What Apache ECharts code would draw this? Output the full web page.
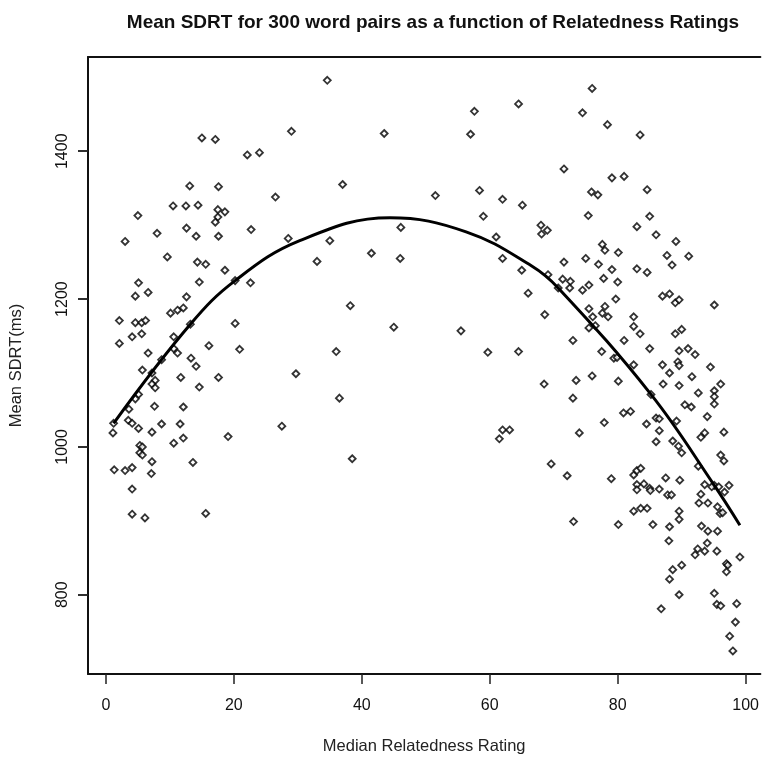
<!DOCTYPE html>
<html><head><meta charset="utf-8">
<script src="https://cdn.jsdelivr.net/npm/echarts@6/dist/echarts.min.js"></script>
<style>html,body{margin:0;padding:0;background:#fff}#c{width:762px;height:760px}</style>
</head><body><div id="c"></div>
<script>
// Median relatedness rating (x) and mean SDRT in ms (y)
const relatedness = [
15.0,17.1,29.0,22.1,24.0,13.1,17.6,26.5,5.0,10.5,12.5,14.4,17.5,18.6,17.5,17.1,8.0,12.6,14.1,17.6,22.7,28.5,3.0,9.6,14.3,15.6,18.6,
34.6,57.6,64.5,43.5,57.0,37.0,51.5,58.4,62.0,65.1,59.0,46.1,61.0,35.0,41.5,46.0,33.0,62.0,65.0,
66.0,38.2,45.0,55.5,36.0,59.7,64.5,36.5,62.0,63.1,61.5,38.5,
76.0,74.5,78.4,83.5,71.6,79.1,81.0,75.9,76.9,84.6,75.4,85.0,83.0,68.0,69.0,68.1,86.0,89.1,77.6,78.0,80.1,87.7,91.1,71.6,75.0,77.0,88.5,79.1,83.0,84.6,
5.1,14.6,22.6,20.2,4.6,6.6,12.6,10.1,11.2,12.1,2.1,4.6,5.6,6.2,13.2,20.2,4.1,5.6,2.1,10.6,16.1,20.9,6.6,10.6,11.2,8.7,13.3,14.1,5.7,7.2,11.7,17.6,29.7,7.7,7.2,7.7,14.6,5.1,4.6,7.6,12.1,3.6,3.5,4.1,5.1,1.2,1.1,8.7,11.6,7.2,12.1,10.6,19.1,27.5,5.3,5.7,5.3,5.7,7.2,13.6,1.3,3.0,4.1,7.1,
4.1,4.1,6.1,15.6,
69.1,71.4,72.6,75.5,74.5,77.8,80.0,72.5,70.7,79.7,87.0,88.1,89.0,89.6,95.1,68.6,75.5,78.0,77.6,78.5,76.1,75.5,76.5,82.5,82.5,83.5,89.0,90.0,73.0,81.0,85.0,89.6,91.0,92.1,77.5,79.4,79.9,89.4,89.6,87.0,82.5,94.5,88.1,91.6,68.5,73.5,76.0,80.1,87.1,89.6,96.1,92.6,95.1,95.1,85.2,73.0,90.5,91.5,95.1,80.9,82.0,94.0,86.0,86.5,77.9,84.5,89.2,74.0,86.5,93.6,93.0,96.6,86.0,88.6,89.5,90.0,96.1,96.6,69.6,92.6,72.1,79.0,82.5,83.0,83.6,87.5,89.7,83.0,84.1,93.6,95.1,97.4,
85.0,85.1,86.5,87.8,88.4,83.0,94.7,95.8,96.7,93.0,92.7,94.1,95.6,96.0,96.4,82.5,83.6,84.6,89.6,89.6,73.1,80.1,85.5,88.1,93.1,94.1,95.6,88.0,94.0,92.5,92.1,93.6,95.5,99.1,97.0,97.2,97.0,90.0,88.6,88.1,89.6,95.1,95.5,96.1,98.6,86.8,98.4,97.5,98.0
];
const sdrt = [
1418,1416,1427,1395,1398,1353,1352,1338,1313,1326,1326,1327,1321,1318,1311,1304,1289,1296,1285,1285,1294,1282,1278,1257,1250,1247,1239,
1496,1454,1464,1424,1423,1355,1340,1347,1335,1327,1312,1297,1284,1279,1262,1255,1251,1255,1239,
1208,1191,1162,1157,1129,1128,1129,1066,1023,1023,1011,984,
1485,1452,1436,1422,1376,1364,1366,1345,1341,1348,1313,1312,1298,1300,1293,1288,1287,1278,1274,1266,1263,1259,1258,1250,1255,1247,1246,1240,1241,1236,
1222,1223,1222,1225,1204,1209,1203,1181,1185,1188,1171,1168,1168,1171,1166,1167,1149,1153,1140,1149,1137,1132,1127,1133,1127,1118,1120,1109,1104,1100,1094,1094,1099,1090,1085,1080,1081,1071,1065,1055,1054,1051,1036,1032,1025,1032,1019,1031,1031,1020,1012,1005,1014,1028,1002,1000,992,989,980,979,969,968,972,964,
943,909,904,910,
1233,1227,1224,1219,1212,1228,1223,1215,1215,1200,1204,1207,1195,1199,1192,1179,1187,1190,1181,1176,1176,1161,1164,1176,1163,1153,1153,1159,1144,1144,1133,1130,1133,1125,1129,1120,1121,1115,1110,1111,1111,1108,1100,1095,1085,1090,1096,1089,1085,1083,1085,1073,1076,1068,1071,1066,1057,1054,1058,1046,1048,1041,1039,1038,1033,1031,1035,1019,1022,1019,1013,1020,1007,1008,1001,992,989,981,977,974,961,957,962,968,971,958,955,949,950,949,948,948,
944,941,943,935,935,942,946,946,939,936,924,924,919,910,911,913,917,917,913,902,899,895,895,892,893,886,886,873,870,862,854,859,859,851,842,840,831,840,834,821,800,802,787,785,788,781,763,744,724
];
// Fitted curve, points
const fitX = [1.2, 13.2, 20.2, 30.3, 44.4, 56.3, 66.5, 70.7, 85.2, 95.1, 99.1];
const fitY = [1032, 1166, 1225, 1279, 1310, 1291, 1245, 1215, 1071, 948, 894];
const xTicks = [0, 20, 40, 60, 80, 100];
const yTicks = [800, 1000, 1200, 1400];

const chart = echarts.init(document.getElementById('c'), null, {renderer: 'canvas'});
const font = '"Liberation Sans", Arial, Helvetica, sans-serif';
const frame = {show: true, onZero: false, lineStyle: {color: '#111', width: 2}};
const X_MIN = -2.8, X_MAX = 102.3, Y_MIN = 692.8, Y_MAX = 1527.5;
const GRID_LEFT = 88, TICK_LEN = 10;
chart.setOption({
  backgroundColor: '#fff',
  animation: false,
  title: {
    text: 'Mean SDRT for 300 word pairs as a function of Relatedness Ratings',
    left: 428, top: 8, textAlign: 'center',
    textStyle: {fontFamily: font, fontSize: 19, fontWeight: 'bold', color: '#111'}
  },
  grid: {left: GRID_LEFT, top: 57, right: 0, bottom: 86, show: false, containLabel: false},
  xAxis: [{
    type: 'value', min: X_MIN, max: X_MAX, position: 'bottom',
    axisLine: frame,
    axisTick: {show: true, length: TICK_LEN, customValues: xTicks, lineStyle: {color: '#222', width: 1.5}},
    axisLabel: {customValues: xTicks, fontFamily: font, fontSize: 16, color: '#111', margin: 24},
    splitLine: {show: false},
    name: 'Median Relatedness Rating', nameLocation: 'middle', nameGap: 64,
    nameTextStyle: {fontFamily: font, fontSize: 16.5, color: '#222'}
  }, {
    type: 'value', min: X_MIN, max: X_MAX, position: 'top',
    axisLine: frame, axisTick: {show: false}, axisLabel: {show: false}, splitLine: {show: false}
  }],
  yAxis: [{
    type: 'value', min: Y_MIN, max: Y_MAX, position: 'left',
    axisLine: {show: false, onZero: false},
    axisTick: {show: true, length: TICK_LEN, customValues: yTicks, lineStyle: {color: '#222', width: 1.5}},
    axisLabel: {customValues: yTicks, rotate: 90, fontFamily: font, fontSize: 16, color: '#111', margin: 17,
      formatter: v => String(v)},
    splitLine: {show: false},
    name: 'Mean SDRT(ms)', nameLocation: 'middle', nameGap: 63,
    nameTextStyle: {fontFamily: font, fontSize: 16.5, color: '#222'}
  }, {
    type: 'value', min: Y_MIN, max: Y_MAX, position: 'left', offset: 0,
    axisLine: frame, axisTick: {show: false}, axisLabel: {show: false}, splitLine: {show: false}
  }],
  series: [
    {
      type: 'scatter', xAxisIndex: 0, yAxisIndex: 0,
      data: relatedness.map((x, i) => [x, sdrt[i]]),
      symbol: 'diamond', symbolSize: 7,
      itemStyle: {color: '#fff', borderColor: '#000', borderWidth: 1.8}
    },
    {
      type: 'line', xAxisIndex: 0, yAxisIndex: 0, clip: false,
      data: fitX.map((x, i) => [x, fitY[i]]),
      smooth: 0.4, symbol: 'none', z: 5,
      lineStyle: {color: '#000', width: 3},
      // y-axis tick marks, placed at the tick values through the y scale
      markLine: {
        silent: true, symbol: ['none', 'none'], animation: false,
        label: {show: false},
        lineStyle: {color: '#222', width: 1.5, type: 'solid'},
        data: yTicks.map(v => [{x: GRID_LEFT - TICK_LEN, yAxis: v}, {x: GRID_LEFT, yAxis: v}])
      }
    }
  ]
});
</script>
</body></html>
